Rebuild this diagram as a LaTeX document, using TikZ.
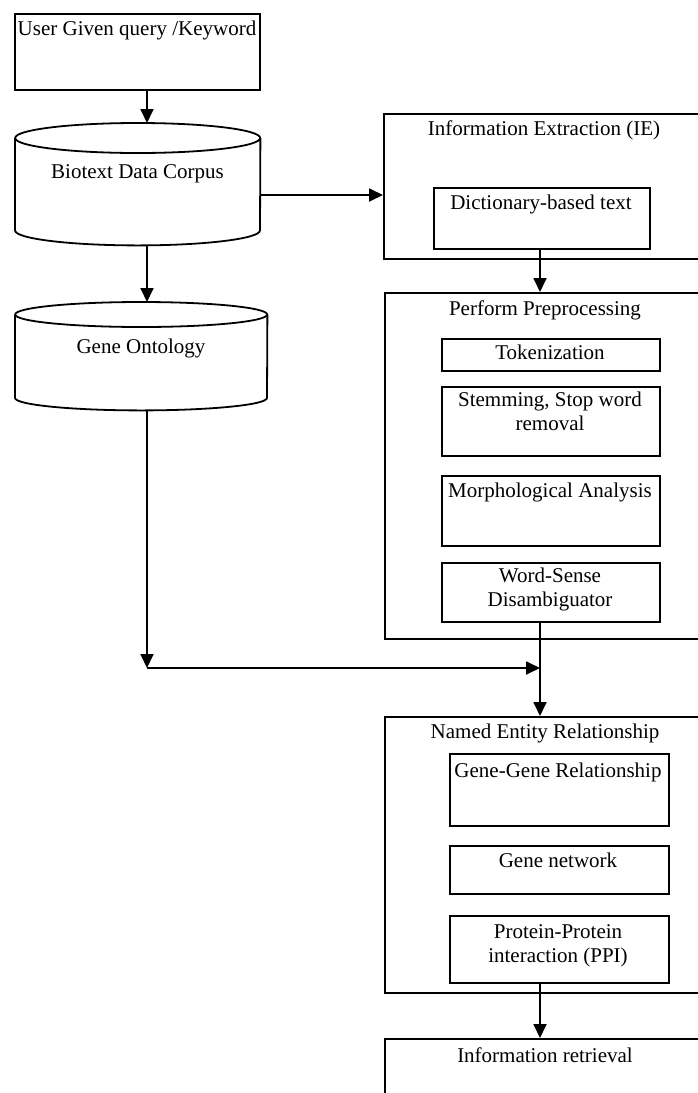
\documentclass[tikz,border=0pt]{standalone}
\usepackage{fontspec}
\setmainfont{Liberation Serif}
\usetikzlibrary{arrows.meta,calc}
\begin{document}
\begin{tikzpicture}[x=1pt,y=1pt,
  every node/.style={font=\fontsize{21}{24}\selectfont},
  box/.style={draw, line width=1.8pt, rectangle, inner sep=0pt, anchor=north west},
  txt/.style={inner sep=0pt, anchor=base, align=center},
  cyl/.style={rectangle, inner sep=0pt, anchor=north west},
  arr/.style={line width=1.8pt, -{Triangle[length=14pt,width=13pt]}},
  ln/.style={line width=1.8pt}]
\useasboundingbox (0,0) rectangle (697,-1093);

% left column
\node[box, minimum width=245, minimum height=76] (user) at (14,-13) {};
\node[txt] (usert) at (137,-35) {User Given query /Keyword};

\node[cyl, minimum width=245, minimum height=122] (bio) at (15,-123) {};
\draw[ln] ($(bio.north west)+(0,-15)$) -- ($(bio.south west)+(0,15)$)
  arc[start angle=180, end angle=360, x radius=122.5, y radius=15]
  -- ($(bio.north east)+(0,-15)$);
\draw[ln] ($(bio.north)+(0,-15)$) ellipse[x radius=122.5, y radius=15];
\node[txt] (biot) at (137.5,-178) {Biotext Data Corpus};

\node[cyl, minimum width=252, minimum height=108] (go) at (15,-302) {};
\draw[ln] ($(go.north west)+(0,-12.5)$) -- ($(go.south west)+(0,12.5)$)
  arc[start angle=180, end angle=360, x radius=126, y radius=12.5]
  -- ($(go.north east)+(0,-12.5)$);
\draw[ln] ($(go.north)+(0,-12.5)$) ellipse[x radius=126, y radius=12.5];
\node[txt] (got) at (141,-353) {Gene Ontology};

% right column
\node[box, minimum width=323, minimum height=145] (ie) at (383,-113) {};
\node[txt] (iet) at (544,-135) {Information Extraction (IE)};
\node[box, minimum width=216, minimum height=61] (dict) at (433,-187) {};
\node[txt] (dictt) at (541,-209) {Dictionary-based text};

\node[box, minimum width=322, minimum height=346] (pp) at (384,-292) {};
\node[txt] (ppt) at (545,-315) {Perform Preprocessing};
\node[box, minimum width=218, minimum height=32] (tok) at (441,-338) {};
\node[txt] (tokt) at (550,-359) {Tokenization};
\node[box, minimum width=218, minimum height=69] (stem) at (441,-386) {};
\node[txt] (stemt) at (550,-430) {Stemming, Stop word\\removal};
\node[box, minimum width=218, minimum height=70] (morph) at (441,-475) {};
\node[txt] (morpht) at (550,-497) {Morphological Analysis};
\node[box, minimum width=218, minimum height=59] (wsd) at (441,-562) {};
\node[txt] (wsdt) at (550,-606) {Word-Sense\\Disambiguator};

\node[box, minimum width=322, minimum height=276] (ner) at (384,-716) {};
\node[txt] (nert) at (545,-738) {Named Entity Relationship};
\node[box, minimum width=219, minimum height=72] (gg) at (449,-753) {};
\node[txt] (ggt) at (558,-777) {Gene-Gene Relationship};
\node[box, minimum width=219, minimum height=48] (gn) at (449,-845) {};
\node[txt] (gnt) at (558,-867) {Gene network};
\node[box, minimum width=219, minimum height=67] (ppi) at (449,-915) {};
\node[txt] (ppit) at (558,-962) {Protein-Protein\\interaction (PPI)};

\node[box, minimum width=322, minimum height=80] (ir) at (384,-1038) {};
\node[txt] (irt) at (545,-1062) {Information retrieval};

% connectors
\coordinate (colA) at (147,0);
\coordinate (colB) at (540,0);
\coordinate (rowIE) at (0,-195);
\coordinate (rowJ) at (0,-668);
\coordinate (junA) at (colA |- rowJ);
\coordinate (junB) at (colB |- rowJ);

\draw[arr] (colA |- user.south) -- (colA |- bio.north);
\draw[arr] (bio.east |- rowIE) -- (ie.west |- rowIE);
\draw[arr] (colA |- bio.south) -- (colA |- go.north);
\draw[arr] (colB |- dict.south) -- (colB |- pp.north);
\draw[arr] (colA |- go.south) -- (junA);
\draw[arr] (junA) -- (junB);
\draw[arr] (colB |- wsd.south) -- (colB |- ner.north);
\draw[arr] (colB |- ppi.south) -- (colB |- ir.north);
\end{tikzpicture}
\end{document}
